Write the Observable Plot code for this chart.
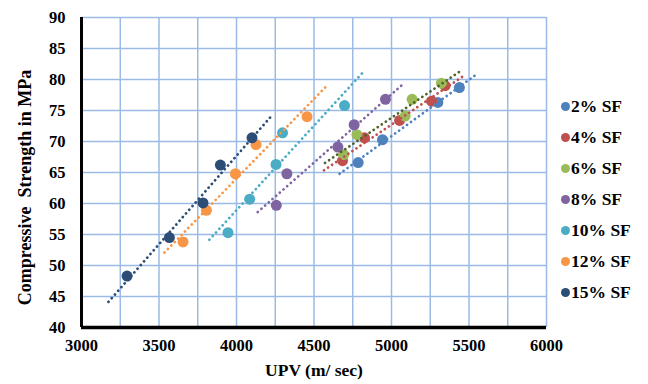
<!DOCTYPE html>
<html>
<head>
<meta charset="utf-8">
<script src="https://cdn.jsdelivr.net/npm/d3@7"></script>
<script src="https://cdn.jsdelivr.net/npm/@observablehq/plot@0.6"></script>
<style>
  body { margin: 0; background: #fff; }
  #wrap { position: relative; width: 648px; height: 384px; }
  #legend { position: absolute; left: 561px; top: 91px; font: bold 17.5px "Liberation Serif", "Times New Roman", serif; color: #000; }
  .item { height: 31px; display: flex; align-items: center; white-space: nowrap; }
  .sw { width: 9px; height: 9px; border-radius: 50%; margin-right: 1px; display: inline-block; }
</style>
</head>
<body>
<div id="wrap"><div id="chart"></div><div id="legend"></div></div>
<script>
const seriesNames = ["2% SF", "4% SF", "6% SF", "8% SF", "10% SF", "12% SF", "15% SF"];
const markerColors = ["#4F81BD", "#C0504D", "#9BBB59", "#8064A2", "#4BACC6", "#F79646", "#2C4D75"];
const trendColors = ["#4F81BD", "#C0504D", "#4F6228", "#8064A2", "#4BACC6", "#F79646", "#2C4D75"];

const upv2 = [4785, 4942, 5299, 5438];
const fc2 = [66.6, 70.3, 76.3, 78.7];
const upv4 = [4684, 4826, 5052, 5258, 5346];
const fc4 = [66.9, 70.6, 73.4, 76.5, 79.0];
const upv6 = [4691, 4777, 5088, 5133, 5322];
const fc6 = [67.9, 71.1, 74.1, 76.8, 79.4];
const upv8 = [4257, 4325, 4654, 4759, 4961];
const fc8 = [59.7, 64.8, 69.1, 72.7, 76.8];
const upv10 = [3945, 4085, 4255, 4297, 4697];
const fc10 = [55.3, 60.7, 66.3, 71.4, 75.8];
const upv12 = [3655, 3806, 3993, 4126, 4455];
const fc12 = [53.8, 58.9, 64.8, 69.5, 74.0];
const upv15 = [3294, 3567, 3784, 3896, 4100];
const fc15 = [48.3, 54.5, 60.1, 66.2, 70.6];

const xTicks = [3000, 3500, 4000, 4500, 5000, 5500, 6000];
const yTicks = [40, 45, 50, 55, 60, 65, 70, 75, 80, 85, 90];
const trendExtend = 120; // forecast forward/backward, in m/sec

const allUpv = [upv2, upv4, upv6, upv8, upv10, upv12, upv15];
const allFc = [fc2, fc4, fc6, fc8, fc10, fc12, fc15];

const points = [];
const trends = [];
seriesNames.forEach((name, i) => {
  const xs = allUpv[i], ys = allFc[i];
  xs.forEach((x, j) => points.push({series: name, x, y: ys[j]}));
  const mx = d3.mean(xs), my = d3.mean(ys);
  const slope = d3.sum(xs, (x, j) => (x - mx) * (ys[j] - my)) / d3.sum(xs, x => (x - mx) ** 2);
  const b = my - slope * mx;
  const x0 = d3.min(xs) - trendExtend, x1 = d3.max(xs) + trendExtend;
  trends.push({series: name, x: x0, y: slope * x0 + b});
  trends.push({series: name, x: x1, y: slope * x1 + b});
});

const font = '"Liberation Serif", "Times New Roman", serif';
const grid = "#9BBBE6";
const vGrid = d3.range(3000, 6001, 250);

const chart = Plot.plot({
  width: 648,
  height: 384,
  marginLeft: 81,
  marginRight: 102,
  marginTop: 17,
  marginBottom: 57,
  style: {fontFamily: font, fontSize: "16.5px", fontWeight: "bold", color: "#000", background: "#fff"},
  x: {domain: [3000, 6000]},
  y: {domain: [40, 90]},
  marks: [
    Plot.ruleX(vGrid, {stroke: grid, strokeWidth: 1.5}),
    Plot.ruleY(yTicks, {stroke: grid, strokeWidth: 1.5}),
    Plot.dot(points, {x: "x", y: "y", r: 5.5, fill: d => markerColors[seriesNames.indexOf(d.series)], stroke: "none"}),
    Plot.line(trends, {x: "x", y: "y", z: "series", stroke: d => trendColors[seriesNames.indexOf(d.series)],
      strokeWidth: 2.7, strokeDasharray: "0.1,4.8", strokeLinecap: "round"}),
    Plot.ruleX([3000], {stroke: "#000", strokeWidth: 3}),
    Plot.ruleY([40], {stroke: "#000", strokeWidth: 3.5}),
    Plot.axisX({ticks: xTicks, tickSize: 0, tickPadding: 12, tickFormat: d => String(d), label: null, fontWeight: "bold", fontSize: 16.5}),
    Plot.axisY({ticks: yTicks, tickSize: 0, tickPadding: 16, tickFormat: d => String(d), label: null, fontWeight: "bold", fontSize: 16.5}),
    Plot.text(["UPV (m/ sec)"], {frameAnchor: "bottom", dy: 48, fontSize: 17.5, fontWeight: "bold", text: d => d}),
    Plot.text(["Compressive  Strength in MPa"], {frameAnchor: "left", textAnchor: "middle", dx: -56, dy: 15, rotate: -90, fontSize: 18, fontWeight: "bold", text: d => d})
  ]
});
document.getElementById("chart").appendChild(chart);

const legend = document.getElementById("legend");
seriesNames.forEach((name, i) => {
  const item = document.createElement("div");
  item.className = "item";
  const sw = document.createElement("span");
  sw.className = "sw";
  sw.style.background = markerColors[i];
  item.appendChild(sw);
  item.appendChild(document.createTextNode(name));
  legend.appendChild(item);
});
</script>
</body>
</html>
